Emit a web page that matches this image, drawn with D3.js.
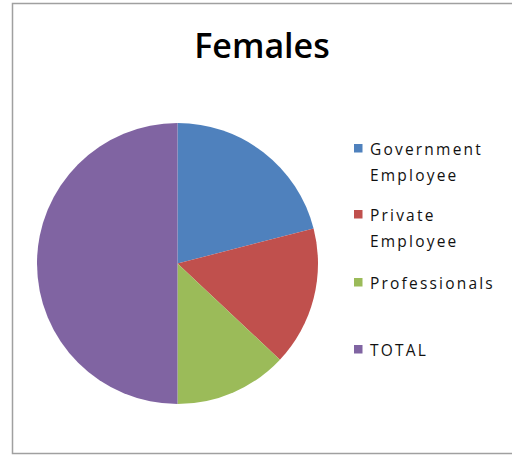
<!DOCTYPE html>
<html>
<head>
<meta charset="utf-8">
<script src="https://cdn.jsdelivr.net/npm/d3@7"></script>
<style>
  html, body { margin: 0; padding: 0; background: #fff; }
  svg { display: block; }
</style>
</head>
<body>
<svg id="chart" width="512" height="455"></svg>
<script>
// Female employment breakdown
const categories = ["Government Employee", "Private Employee", "Professionals", "TOTAL"];
const legendLines = [["Government", "Employee"], ["Private", "Employee"], ["Professionals"], ["TOTAL"]];
const values = [42, 32, 26, 100];
const colors = ["#4F81BD", "#C0504D", "#9BBB59", "#8064A2"];
const title = "Females";

const svg = d3.select("#chart");

// chart frame
svg.append("rect")
  .attr("x", 12.5).attr("y", 3.5)
  .attr("width", 520).attr("height", 450)
  .attr("fill", "#fff")
  .attr("stroke", "#a0a0a0")
  .attr("stroke-width", 1.5);

// title
svg.append("text")
  .attr("x", 262).attr("y", 58)
  .attr("text-anchor", "middle")
  .attr("font-family", "'Open Sans', sans-serif")
  .attr("font-weight", 600)
  .attr("font-size", 34)
  .attr("fill", "#000")
  .text(title);

// pie
const cx = 177.5, cy = 263.5, r = 140.5;
const pie = d3.pie().sort(null).value(d => d)(values);
const arc = d3.arc().innerRadius(0).outerRadius(r);
const color = d3.scaleOrdinal().domain(categories).range(colors);

svg.append("g")
  .attr("transform", `translate(${cx},${cy})`)
  .selectAll("path")
  .data(pie)
  .join("path")
  .attr("d", arc)
  .attr("fill", (d, i) => color(categories[i]));

// legend
const legendTops = [155, 221, 289, 356];
const lineGap = 26;
const legend = svg.append("g");
categories.forEach((c, i) => {
  const base = legendTops[i];
  legend.append("rect")
    .attr("x", 354).attr("y", base - 11)
    .attr("width", 8.5).attr("height", 8.5)
    .attr("fill", color(c));
  const t = legend.append("text")
    .attr("x", 370).attr("y", base)
    .attr("font-family", "'Open Sans', sans-serif")
    .attr("font-size", 15.5)
    .attr("letter-spacing", 2.2)
    .attr("fill", "#111");
  legendLines[i].forEach((ln, j) => {
    t.append("tspan").attr("x", 370).attr("y", base + j * lineGap).text(ln);
  });
});
</script>
</body>
</html>
